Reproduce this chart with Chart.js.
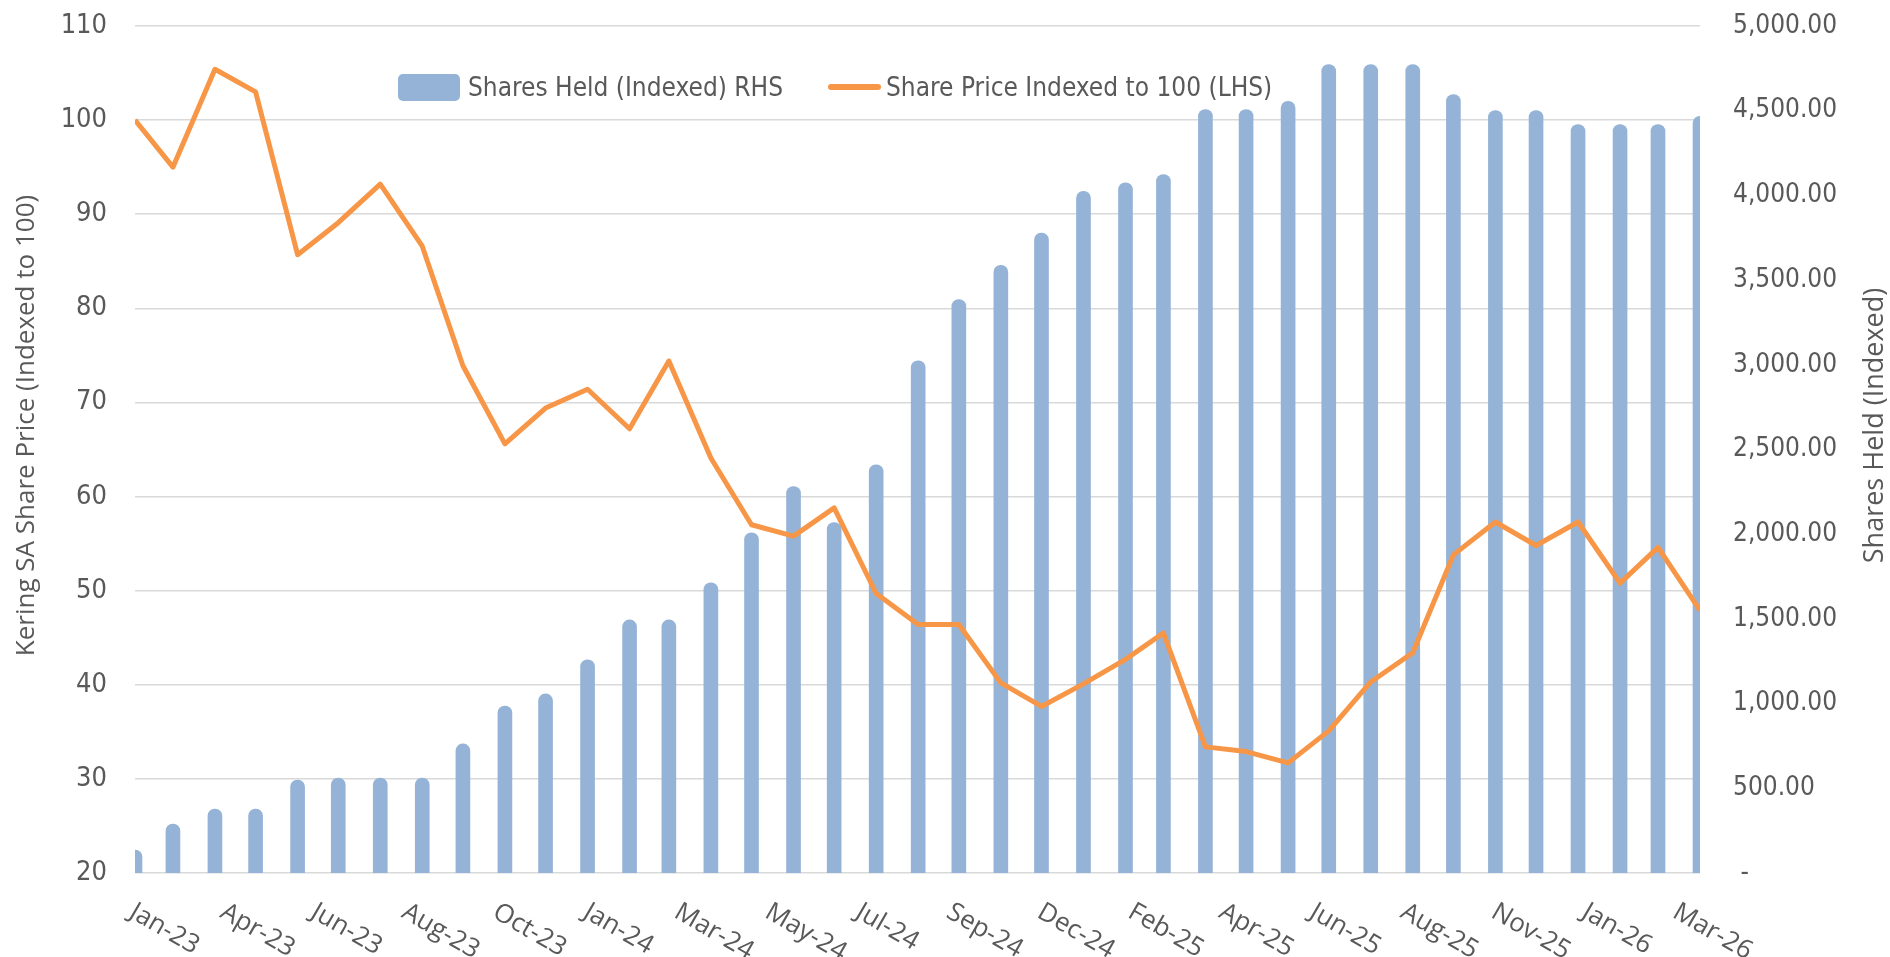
<!DOCTYPE html>
<html>
<head>
<meta charset="utf-8">
<title>Kering SA share price vs shares held</title>
<script src="https://cdn.jsdelivr.net/npm/chart.js@4.4.1/dist/chart.umd.min.js"></script>
<style>
  html, body { margin: 0; padding: 0; background: #fff; }
  #wrap { position: relative; width: 1890px; height: 957px; }
  .lg { position: absolute; font-family: "DejaVu Sans Condensed", "Liberation Sans Narrow", sans-serif;
        font-size: 26px; color: #595959; line-height: 34px; top: 70px; white-space: nowrap; }
  .lg-box { position: absolute; left: 398px; top: 74px; width: 62px; height: 27px; border-radius: 5px; background: #95B3D7; }
  .lg-line { position: absolute; left: 828px; top: 84px; width: 53px; height: 6px; border-radius: 3px; background: #F79646; }
</style>
</head>
<body>
<div id="wrap">
  <canvas id="chart"></canvas>
  <div class="lg-box"></div>
  <div class="lg" style="left:468px">Shares Held (Indexed) RHS</div>
  <div class="lg-line"></div>
  <div class="lg" style="left:886px">Share Price Indexed to 100 (LHS)</div>
</div>
<script>
// month-end observation dates
const dates = [
  '2023-01-31', '2023-02-28', '2023-03-31', '2023-04-30', '2023-05-31', '2023-06-30',
  '2023-07-31', '2023-08-31', '2023-09-30', '2023-10-31', '2023-11-30', '2023-12-31',
  '2024-01-31', '2024-02-29', '2024-03-31', '2024-04-30', '2024-05-31', '2024-06-30',
  '2024-07-31', '2024-08-31', '2024-09-30', '2024-10-31', '2024-11-30', '2024-12-31',
  '2025-01-31', '2025-02-28', '2025-03-31', '2025-04-30', '2025-05-31', '2025-06-30',
  '2025-07-31', '2025-08-31', '2025-09-30', '2025-10-31', '2025-11-30', '2025-12-31',
  '2026-01-31', '2026-02-28', '2026-03-31'
];

// RHS
const sharesHeld = [
  136, 289, 378, 378, 549, 561, 561, 561, 762, 986, 1057, 1258,
  1494, 1494, 1713, 2008, 2281, 2069, 2410, 3024, 3385, 3587, 3778, 4024,
  4074, 4123, 4507, 4507, 4556, 4772, 4772, 4772, 4595, 4501, 4501, 4418,
  4418, 4418, 4467
];

// LHS
const sharePrice = [
  100.0, 95.0, 105.4, 103.0, 85.7, 89.1, 93.2, 86.6, 73.9, 65.6, 69.4, 71.4,
  67.2, 74.4, 64.1, 57.0, 55.8, 58.8, 49.7, 46.4, 46.4, 40.2, 37.7, 40.1,
  42.7, 45.5, 33.4, 32.9, 31.7, 35.1, 40.3, 43.4, 53.8, 57.3, 54.8, 57.3,
  50.8, 54.6, 47.9
];

const monthNames = ['Jan', 'Feb', 'Mar', 'Apr', 'May', 'Jun', 'Jul', 'Aug', 'Sep', 'Oct', 'Nov', 'Dec'];
const majorUnitDays = 67;

const DAY = 86400000;
function utc(s) {
  const p = s.split('-').map(Number);
  return Date.UTC(p[0], p[1] - 1, p[2]);
}
const t0 = utc(dates[0]);
const dayOf = s => Math.round((utc(s) - t0) / DAY);

function dateLabel(days) {
  const d = new Date(t0 + days * DAY);
  return monthNames[d.getUTCMonth()] + '-' + String(d.getUTCFullYear()).slice(2);
}

function money(v) {
  if (v === 0) return ' -';
  return v.toLocaleString('en-US', {minimumFractionDigits: 2, maximumFractionDigits: 2});
}

const textColor = '#595959';
const gridColor = '#D9D9D9';
const narrow = '"DejaVu Sans Condensed", "Liberation Sans Narrow", sans-serif';

// excel style slanted date labels, text starts at the tick
const dateLabels = {
  id: 'dateLabels',
  afterDraw(chart) {
    const {ctx} = chart;
    const xs = chart.scales.x;
    const top = chart.chartArea.bottom + 28;
    ctx.save();
    ctx.font = '26px "Open Sans"';
    ctx.fillStyle = textColor;
    ctx.textAlign = 'left';
    ctx.textBaseline = 'alphabetic';
    xs.ticks.forEach(t => {
      const px = xs.getPixelForValue(t.value) + 2;
      ctx.save();
      ctx.translate(px, top);
      ctx.rotate(Math.PI / 6);
      ctx.fillText(dateLabel(t.value), 0, 18);
      ctx.restore();
    });
    ctx.restore();
  }
};

// both axis titles read bottom to top, sitting a little above the plot middle
const axisTitles = {
  id: 'axisTitles',
  afterDraw(chart) {
    const {ctx, chartArea} = chart;
    const midY = (chartArea.top + chartArea.bottom) / 2 - 24;
    const put = (text, x, size) => {
      ctx.save();
      ctx.font = size + 'px "Open Sans"';
      ctx.fillStyle = textColor;
      ctx.textAlign = 'center';
      ctx.textBaseline = 'middle';
      ctx.translate(x, midY);
      ctx.rotate(-Math.PI / 2);
      ctx.fillText(text, 0, 0);
      ctx.restore();
    };
    put('Kering SA Share Price (Indexed to 100)', chart.scales.y.left + 27, 26);
    put('Shares Held (Indexed)', chart.scales.y1.right - 15, 27);
  }
};

const barData = dates.map((d, i) => ({x: dayOf(d), y: sharesHeld[i]}));
const lineData = dates.map((d, i) => ({x: dayOf(d), y: sharePrice[i]}));

new Chart(document.getElementById('chart'), {
  data: {
    datasets: [
      {
        type: 'bar',
        label: 'Shares Held (Indexed) RHS',
        data: barData,
        yAxisID: 'y1',
        backgroundColor: '#95B3D7',
        barThickness: 14,
        borderRadius: 7,
        borderSkipped: 'start',
        clip: 0,
        order: 2
      },
      {
        type: 'line',
        label: 'Share Price Indexed to 100 (LHS)',
        data: lineData,
        yAxisID: 'y',
        borderColor: '#F79646',
        borderWidth: 5,
        pointRadius: 0,
        tension: 0,
        borderJoinStyle: 'round',
        order: 1
      }
    ]
  },
  options: {
    responsive: true,
    maintainAspectRatio: false,
    animation: false,
    events: [],
    layout: {padding: {top: 26, left: 0, right: 0, bottom: 0}},
    plugins: {legend: {display: false}, tooltip: {enabled: false}},
    scales: {
      x: {
        type: 'linear',
        position: 'bottom',
        offset: false,
        bounds: 'data',
        min: 0,
        max: dayOf(dates[dates.length - 1]),
        grid: {display: false},
        border: {display: false},
        ticks: {display: false},
        afterBuildTicks(s) {
          const t = [];
          for (let v = s.min; v <= s.max; v += majorUnitDays) t.push({value: v});
          s.ticks = t;
        },
        afterFit(s) { s.height = 84; }
      },
      y: {
        position: 'left',
        min: 20,
        max: 110,
        grid: {color: gridColor, lineWidth: 1.5, drawTicks: false},
        border: {display: false},
        ticks: {stepSize: 10, padding: 28, color: textColor, font: {family: narrow, size: 27}},
        afterFit(s) { s.width = 135; s.paddingTop = 0; s.paddingBottom = 0; }
      },
      y1: {
        position: 'right',
        min: 0,
        max: 5000,
        grid: {display: false, drawTicks: false},
        border: {display: false},
        ticks: {stepSize: 500, padding: 33, color: textColor, font: {family: narrow, size: 26}, callback: v => money(v)},
        afterFit(s) { s.width = 190; s.paddingTop = 0; s.paddingBottom = 0; }
      }
    }
  },
  plugins: [dateLabels, axisTitles]
});
</script>
</body>
</html>
